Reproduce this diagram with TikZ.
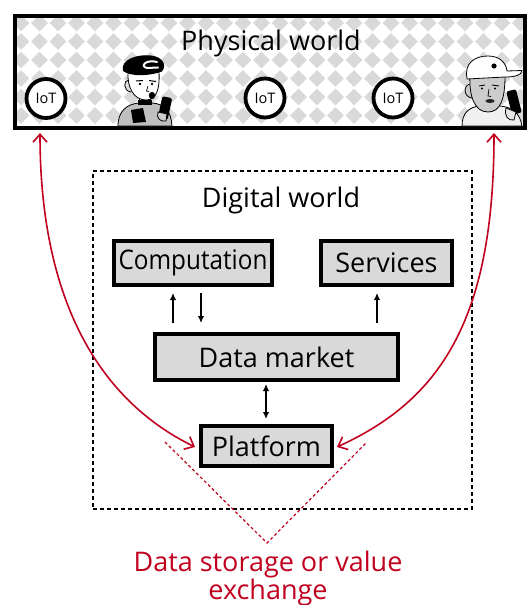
\documentclass[tikz,border=0pt]{standalone}
\usepackage{fontspec}
\setmainfont{Open Sans}
\usetikzlibrary{arrows.meta,calc}
\definecolor{boxgray}{HTML}{D9D9D9}
\definecolor{tilegray}{HTML}{D9D9D9}
\definecolor{linkred}{HTML}{C0001E}

\begin{document}
\begin{tikzpicture}[x=1pt,y=-1pt,
  lbl/.style={inner sep=0pt,font=\fontsize{27}{29}\selectfont},
  block/.style={draw,line width=4pt,fill=boxgray,inner sep=0pt,font=\fontsize{27}{29}\selectfont},
  iot/.style={draw,circle,line width=3.8pt,fill=white,minimum size=39pt,inner sep=0pt,font=\fontsize{14.5}{16}\selectfont},
  flow/.style={line width=1.8pt,-{Latex[length=7pt,width=6.5pt]}},
  flowboth/.style={line width=1.8pt,{Latex[length=7pt,width=6.5pt]}-{Latex[length=7pt,width=6.5pt]}},
  link/.style={draw=linkred,line width=1.6pt,{Straight Barb[length=8pt,width=14pt]}-{Straight Barb[length=8pt,width=14pt]}},
  hint/.style={draw=linkred,line width=1.2pt,dash pattern=on 3pt off 2.5pt},
  skin/.style={line width=0.8pt,line join=round},
]
\useasboundingbox (0,0) rectangle (528,605);

% ---------- physical world: tiled backdrop ----------
\begin{scope}
  \clip (15,16) rectangle (525,128);
  \foreach \i in {0,...,28}
    \foreach \j in {0,...,6}
      \fill[tilegray] ({21+18.5*\i},{23+18.5*\j}) +(-8.3,0) -- +(0,-8.3) -- +(8.3,0) -- +(0,8.3) -- cycle;
\end{scope}
\node[draw,line width=4pt,minimum width=510pt,minimum height=112.5pt,inner sep=0pt] (phys) at (270,71.8) {};
\node[lbl] (physlbl) at (271,43) {Physical world};

% IoT devices
\node[iot] (iot1) at (46,98.5) {IoT};
\node[iot] (iot2) at (265,98) {IoT};
\node[iot] (iot3) at (393,98) {IoT};

% ---------- person with beret ----------
\filldraw[skin,fill=gray!50] (118,126) .. controls (118,111) and (127,104) .. (139,103) -- (152,103) .. controls (165,104) and (171,111) .. (172,126) -- cycle;
\fill (131,110) -- (143,108) -- (146,122) -- (133,123) -- cycle;
\filldraw[skin,fill=white] (139,94) rectangle (150,104);
\fill (137.5,100) rectangle (151.5,104.5);
\filldraw[skin,fill=gray!25] (129,80) .. controls (123,80) and (123,91) .. (131,92);
\filldraw[skin,fill=white] (128,72) .. controls (127,86) and (133,100) .. (146,100) .. controls (156,100) and (160,90) .. (159,72) -- cycle;
\draw[line width=1pt] (136,81) -- (143,80.5);
\draw[line width=1pt] (149,80.5) -- (156,81.5);
\fill (140,84) circle (1.3);
\fill (152,84) circle (1.3);
\draw[line width=0.7pt] (148,86) -- (146.5,91) -- (149,91.5);
\fill (152,95.5) ellipse (3.2 and 3.6);
\fill (123,71) .. controls (120,59) and (138,54) .. (151,55.5) .. controls (163,57) and (167,65) .. (162,71.5) .. controls (150,76) and (131,77) .. (123,71) -- cycle;
\draw[white,line width=2pt,line cap=round] (157,62) .. controls (147,59) and (139,66) .. (147,68) -- (158,67.5);
\fill[rounded corners=1.5pt,rotate around={-12:(165,108)}] (160,97) rectangle (170,119);
\filldraw[skin,fill=gray!40] (158,112) .. controls (156,118) and (160,122) .. (166,121) -- (167,114) -- cycle;

% ---------- person with cap ----------
\filldraw[skin,fill=gray!12] (462,126) .. controls (462,113) and (469,107) .. (480,106) -- (500,106) .. controls (512,107) and (520,113) .. (522,126) -- cycle;
\filldraw[skin,fill=gray!40] (471,84) .. controls (463,84) and (463,97) .. (472,98);
\filldraw[skin,fill=gray!40] (470,76) .. controls (469,95) and (474,112) .. (488,112) .. controls (500,112) and (505,100) .. (505,76) -- cycle;
\draw[line width=0.9pt] (479,86) -- (485,85);
\draw[line width=0.9pt] (492,85) -- (499,86);
\fill (482,88.5) circle (1.2);
\fill (495,88.5) circle (1.2);
\draw[line width=0.7pt] (489,89) -- (488,96) -- (491,96.5);
\fill[gray!30!black] (490,101) ellipse (4.5 and 2);
\filldraw[skin,fill=white] (467,78) .. controls (464,63) and (475,56) .. (488,56) .. controls (500,56) and (506,63) .. (507,71) -- (522,70.5) .. controls (522,75) and (515,77) .. (505,77) -- (467,79) -- cycle;
\fill (494,66) circle (2.6);
\fill[rounded corners=1.5pt,rotate around={14:(514,102)}] (509,90) rectangle (519,114);
\filldraw[skin,fill=gray!20] (506,108) .. controls (504,116) and (508,121) .. (514,120) -- (516,112) -- cycle;

% ---------- digital world ----------
\node[draw,line width=2pt,dash pattern=on 4pt off 3pt,minimum width=379pt,minimum height=338pt,inner sep=0pt] (digital) at (282.5,340) {};
\node[lbl] (diglbl) at (281,200) {Digital world};

\node[block,minimum width=158pt,minimum height=44pt] (comp) at (193,263) {\scalebox{0.9}[1]{Computation}};
\node[block,minimum width=131pt,minimum height=44pt] (serv) at (386.5,263) {Services};
\node[block,minimum width=243pt,minimum height=46pt] (market) at (276.5,357) {Data market};
\node[block,minimum width=131pt,minimum height=40pt] (plat) at (266.5,446) {Platform};

% arrow lanes
\coordinate (laneA) at (173,0);
\coordinate (laneB) at (201,0);
\coordinate (laneC) at (377,0);
\coordinate (laneD) at (266,0);

\draw[flow,shorten <=9pt,shorten >=6pt] (market.north -| laneA) -- (comp.south -| laneA);
\draw[flow,shorten <=6pt,shorten >=9pt] (comp.south -| laneB) -- (market.north -| laneB);
\draw[flow,shorten <=9pt,shorten >=6pt] (market.north -| laneC) -- (serv.south -| laneC);
\draw[flowboth,shorten <=2pt,shorten >=5pt] (market.south -| laneD) -- (plat.north -| laneD);

% ---------- exchange links ----------
\coordinate (pl) at (40,133);
\coordinate (pr) at (494,133);
\coordinate (ql) at (195,447);
\coordinate (qr) at (337,447);
\draw[link] (pl) .. controls (40,350) and (140,420) .. (ql);
\draw[link] (pr) .. controls (494,320) and (440,400) .. (qr);

\node[lbl,text=linkred,align=center] (note) at (268,578) {Data storage or value\\[-1pt]exchange};
\coordinate (vl) at (165,442);
\coordinate (apex) at (267,543);
\coordinate (vr) at (367,442);
\draw[hint] (vl) -- (apex) -- (vr);

\end{tikzpicture}
\end{document}
